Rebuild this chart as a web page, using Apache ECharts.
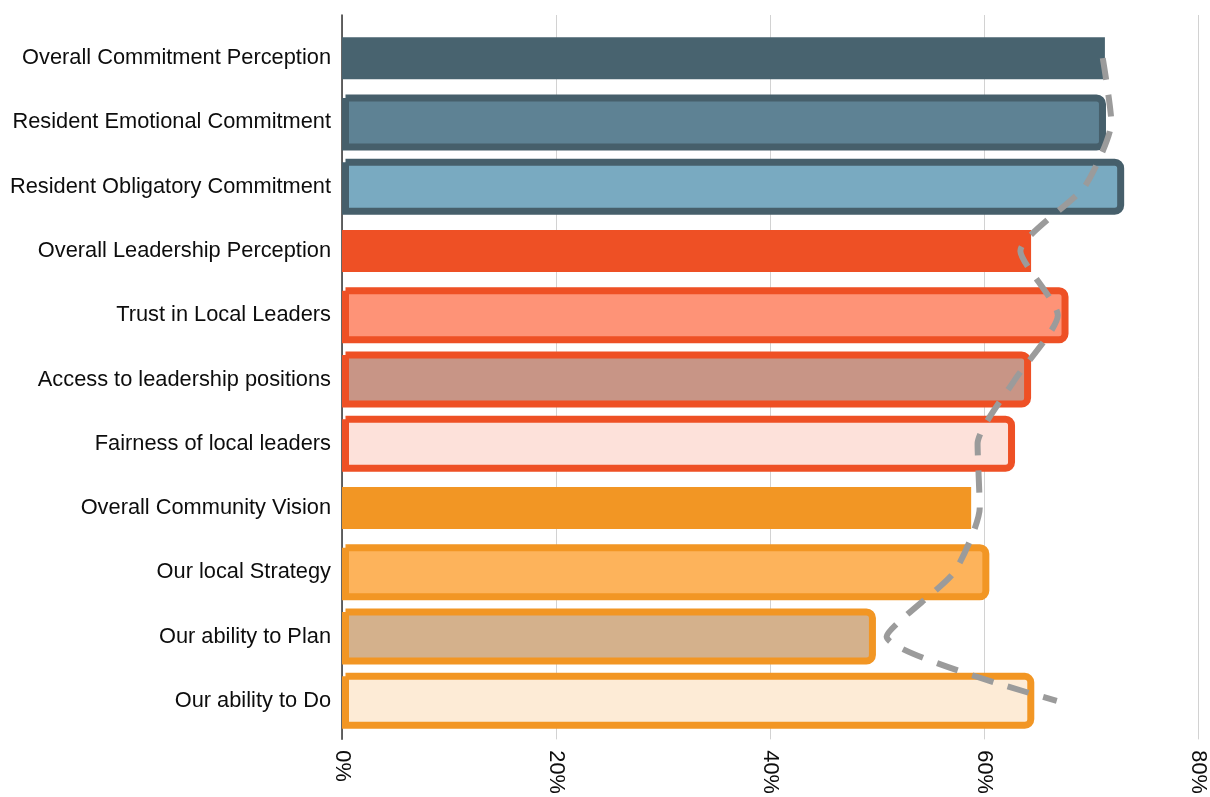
<!DOCTYPE html>
<html><head><meta charset="utf-8">
<script src="https://cdn.jsdelivr.net/npm/echarts@6/dist/echarts.min.js"></script>
<style>html,body{margin:0;padding:0;background:#fff}#c{width:1210px;height:797px}</style>
</head><body><div id="c"></div>
<script>
const categories = [
  'Overall Commitment Perception',
  'Resident Emotional Commitment',
  'Resident Obligatory Commitment',
  'Overall Leadership Perception',
  'Trust in Local Leaders',
  'Access to leadership positions',
  'Fairness of local leaders',
  'Overall Community Vision',
  'Our local Strategy',
  'Our ability to Plan',
  'Our ability to Do'
];
const barValues = [71.3, 71.4, 73.1, 64.4, 67.9, 64.4, 62.9, 58.8, 60.5, 49.9, 64.7];
const trendValues = [71.1, 71.9, 69.4, 63.4, 66.9, 62.9, 59.4, 59.6, 57.2, 50.9, 66.8];
const xMin = 0, xMax = 80, xStep = 20;

// styles (kept apart from the data)
const barStyles = [
  { fill: '#48636f' },
  { fill: '#5e8294', border: '#465f6b' },
  { fill: '#79aac1', border: '#465f6b' },
  { fill: '#ee5025' },
  { fill: '#fe9377', border: '#ee5025' },
  { fill: '#c89586', border: '#ee5025' },
  { fill: '#fde1da', border: '#ee5025' },
  { fill: '#f29624' },
  { fill: '#fdb35b', border: '#f29624' },
  { fill: '#d4b18c', border: '#f29624' },
  { fill: '#fdebd6', border: '#f29624' }
];
const FONT = '"Liberation Sans", Arial, Helvetica, sans-serif';
const TXT = '#0d0d0d';

const plainData = barValues.map((v, i) => barStyles[i].border ? '-' :
  { value: v, itemStyle: { color: barStyles[i].fill } });
const borderedData = barValues.map((v, i) => !barStyles[i].border ? '-' :
  { value: v, itemStyle: { color: barStyles[i].fill, borderColor: barStyles[i].border,
    borderWidth: 7, borderRadius: [0, 6, 6, 0] } });

const chart = echarts.init(document.getElementById('c'), null, { renderer: 'canvas' });
chart.setOption({
  animation: false,
  backgroundColor: '#ffffff',
  textStyle: { fontFamily: FONT },
  grid: [
    { left: 342, top: 26, width: 856, height: 707 },
    { left: 342, top: 15, width: 856, height: 728 }
  ],
  xAxis: [
    { gridIndex: 0, type: 'value', min: xMin, max: xMax, interval: xStep, show: false },
    { gridIndex: 1, type: 'value', min: xMin, max: xMax, interval: xStep,
      axisLine: { show: false }, axisTick: { show: false },
      splitLine: { show: true, lineStyle: { color: '#d2d2d2', width: 1 } },
      axisLabel: { rotate: -90, formatter: '{value}%', fontSize: 21.8, color: TXT,
        fontFamily: FONT, margin: 11 } }
  ],
  yAxis: [
    { gridIndex: 0, type: 'category', data: categories, inverse: true,
      axisLine: { show: false }, axisTick: { show: false }, splitLine: { show: false },
      axisLabel: { fontSize: 21.8, color: TXT, fontFamily: FONT, margin: 11 } },
    { gridIndex: 0, type: 'category', data: categories, inverse: true, show: false },
    { gridIndex: 1, type: 'value', min: 0, max: 1,
      axisLine: { show: true, lineStyle: { color: '#333333', width: 1.5 } },
      axisTick: { show: false }, axisLabel: { show: false }, splitLine: { show: false } }
  ],
  series: [
    { type: 'bar', xAxisIndex: 0, yAxisIndex: 1, barWidth: 42, data: plainData, z: 2 },
    { type: 'bar', xAxisIndex: 0, yAxisIndex: 0, barWidth: 56, data: borderedData, z: 2 },
    { type: 'line', xAxisIndex: 0, yAxisIndex: 0, data: trendValues, smooth: 0.2,
      showSymbol: false, symbol: 'none', z: 5,
      lineStyle: { color: '#9b9b9b', width: 6, type: [22, 15], cap: 'butt' } }
  ]
});
</script>
</body></html>
